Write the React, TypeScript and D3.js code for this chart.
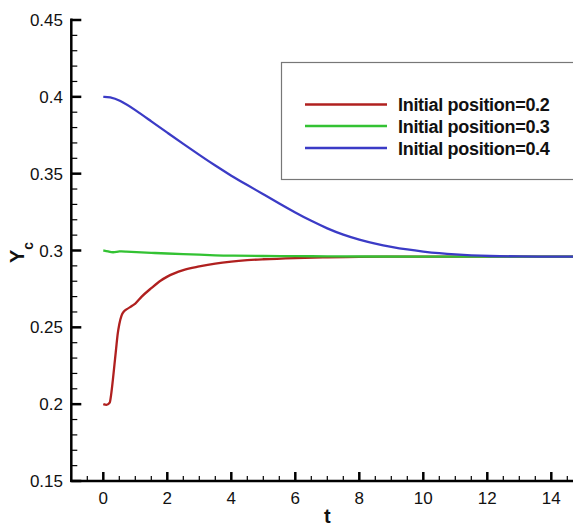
import React from "react";
import * as d3 from "d3";

const W = 573;
const H = 527;

const xTicks = [0, 2, 4, 6, 8, 10, 12, 14];
const yTicks = [0.15, 0.2, 0.25, 0.3, 0.35, 0.4, 0.45];
const yTickLabels = ["0.15", "0.2", "0.25", "0.3", "0.35", "0.4", "0.45"];

const legendLabels = ["Initial position=0.2", "Initial position=0.3", "Initial position=0.4"];
const seriesColors = ["#b0201f", "#33c233", "#3b3bc6"];

const redT = [0, 0.1, 0.2, 0.25, 0.3, 0.35, 0.4, 0.45, 0.5, 0.57, 0.65, 0.75, 0.9, 1.0, 1.2, 1.5, 1.8, 2.0, 2.5, 3.0, 3.5, 4.0, 4.5, 5.0, 6.0, 7.0, 8.0, 10, 12, 15];
const redV = [0.2, 0.1995, 0.201, 0.207, 0.216, 0.226, 0.236, 0.2457, 0.252, 0.2576, 0.2605, 0.262, 0.264, 0.2655, 0.27, 0.2755, 0.2805, 0.283, 0.2872, 0.2896, 0.2915, 0.2928, 0.2937, 0.2943, 0.2951, 0.2956, 0.2959, 0.296, 0.296, 0.296];

const greenT = [0, 0.15, 0.3, 0.5, 0.7, 1.0, 1.5, 2.0, 2.5, 3.0, 3.5, 4.0, 5, 6, 7, 8, 10, 12, 15];
const greenV = [0.3, 0.2995, 0.2985, 0.2996, 0.2993, 0.299, 0.2985, 0.298, 0.2977, 0.2973, 0.2968, 0.2966, 0.2964, 0.2963, 0.2962, 0.2961, 0.296, 0.296, 0.296];

const blueT = [0, 0.2, 0.5, 1.0, 1.5, 2.0, 2.5, 3.0, 3.5, 4.0, 4.5, 5.0, 5.5, 6.0, 6.5, 7.0, 7.5, 8.0, 8.5, 9.0, 9.5, 10, 10.5, 11, 11.5, 12, 13, 14, 15];
const blueV = [0.4, 0.4, 0.398, 0.3915, 0.384, 0.3767, 0.3694, 0.3622, 0.3552, 0.3486, 0.3426, 0.3366, 0.3306, 0.3247, 0.3192, 0.3143, 0.3102, 0.307, 0.3044, 0.3023, 0.3006, 0.2993, 0.2982, 0.2974, 0.2968, 0.2964, 0.2961, 0.296, 0.296];

const seriesT = [redT, greenT, blueT];
const seriesV = [redV, greenV, blueV];

const FONT = "'Liberation Sans', Arial, Helvetica, sans-serif";

export default function App() {
  const x = d3.scaleLinear().domain([-1, 15]).range([71.3, 583.3]);
  const y = d3.scaleLinear().domain([0.15, 0.45]).range([481, 20]);

  const smooth = d3
    .line<[number, number]>()
    .x((d) => x(d[0]))
    .y((d) => y(d[1]))
    .curve(d3.curveBasis);
  const mono = d3
    .line<[number, number]>()
    .x((d) => x(d[0]))
    .y((d) => y(d[1]))
    .curve(d3.curveMonotoneX);
  const gens = [mono, smooth, smooth];

  const xMinor = d3.range(-1, 15.001, 0.5).filter((t) => Math.abs(t % 2) > 1e-6);
  const yMinor = d3.range(0.15, 0.4501, 0.01).filter((v) => Math.abs(Math.round(v * 100) % 5) !== 0);

  const x0 = x(-1);
  const y0 = y(0.15);

  const legX1 = 305;
  const legX2 = 387;
  const legY = [104.5, 126, 148];

  return (
    <svg
      width={W}
      height={H}
      style={{ position: "absolute", left: 0, top: 0, background: "#fff" }}
      fontFamily={FONT}
    >
      <rect x={0} y={0} width={W} height={H} fill="#fff" />

      {/* series */}
      {seriesT.map((ts, i) => (
        <path
          key={i}
          d={gens[i](ts.map((t, j) => [t, seriesV[i][j]]) as [number, number][]) || ""}
          fill="none"
          stroke={seriesColors[i]}
          strokeWidth={2.3}
          strokeLinejoin="round"
        />
      ))}

      {/* legend */}
      <rect x={281.5} y={62.5} width={320} height={117} fill="none" stroke="#777" strokeWidth={1.2} />
      {legendLabels.map((lab, i) => (
        <g key={lab}>
          <line x1={legX1} x2={legX2} y1={legY[i]} y2={legY[i]} stroke={seriesColors[i]} strokeWidth={2.3} />
          <text
            x={398}
            y={legY[i] + 6.5}
            fontSize={18}
            fontWeight="bold"
            letterSpacing={-0.3}
            fill="#111"
          >
            {lab}
          </text>
        </g>
      ))}

      {/* axes */}
      <line x1={x0} x2={x0} y1={18.5} y2={y0 + 1} stroke="#000" strokeWidth={2.5} />
      <line x1={x0 - 1} x2={W + 20} y1={y0} y2={y0} stroke="#000" strokeWidth={2.5} />

      {yTicks.map((v, i) => (
        <g key={"yt" + i}>
          <line x1={x0} x2={x0 + 10} y1={y(v)} y2={y(v)} stroke="#000" strokeWidth={2.5} />
          <text x={63} y={y(v) + 6} fontSize={17} textAnchor="end" fill="#111">
            {yTickLabels[i]}
          </text>
        </g>
      ))}
      {yMinor.map((v, i) => (
        <line key={"ym" + i} x1={x0} x2={x0 + 6} y1={y(v)} y2={y(v)} stroke="#000" strokeWidth={1.2} />
      ))}

      {xTicks.map((t) => (
        <g key={"xt" + t}>
          <line x1={x(t)} x2={x(t)} y1={y0} y2={y0 - 9} stroke="#000" strokeWidth={2.5} />
          <text x={x(t)} y={503.5} fontSize={17} textAnchor="middle" fill="#111">
            {t}
          </text>
        </g>
      ))}
      {xMinor.map((t, i) => (
        <line key={"xm" + i} x1={x(t)} x2={x(t)} y1={y0} y2={y0 - 5} stroke="#000" strokeWidth={1.2} />
      ))}

      {/* axis titles */}
      <text x={x(7)} y={523} fontSize={20} fontWeight="bold" textAnchor="middle" fill="#111">
        t
      </text>
      <g transform="translate(24,263) rotate(-90)">
        <text x={0} y={0} fontSize={20} fontWeight="bold" fill="#111">
          Y
          <tspan fontSize={14} dy={9}>
            c
          </tspan>
        </text>
      </g>
    </svg>
  );
}
